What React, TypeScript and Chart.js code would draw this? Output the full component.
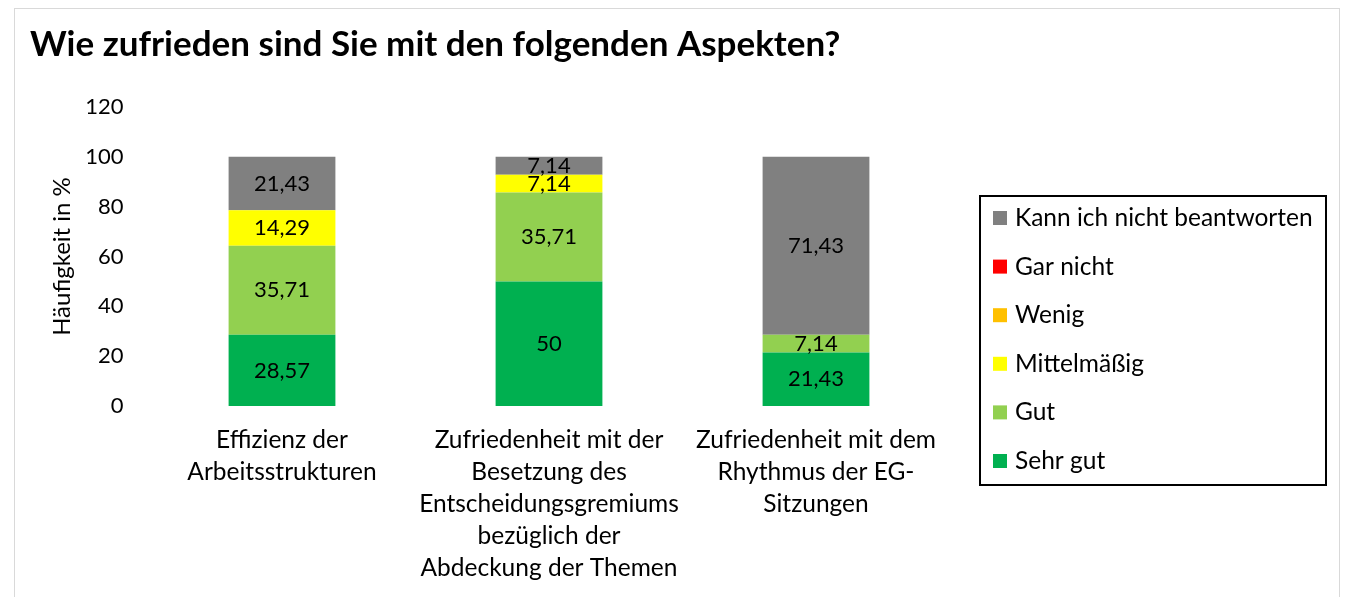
import React, { useEffect, useRef } from "react";
import { Chart, registerables } from "chart.js";

Chart.register(...registerables);

const chartTitle = "Wie zufrieden sind Sie mit den folgenden Aspekten?";
const yAxisTitle = "Häufigkeit in %";

const categories: string[][] = [
  ["Effizienz der", "Arbeitsstrukturen"],
  ["Zufriedenheit mit der", "Besetzung des", "Entscheidungsgremiums", "bezüglich der", "Abdeckung der Themen"],
  ["Zufriedenheit mit dem", "Rhythmus der EG-", "Sitzungen"],
];

const seriesNames = ["Sehr gut", "Gut", "Mittelmäßig", "Wenig", "Gar nicht", "Kann ich nicht beantworten"];
const seriesColors = ["#00B050", "#92D050", "#FFFF00", "#FFC000", "#FF0000", "#808080"];

const sehrGut = [28.57, 50, 21.43];
const gut = [35.71, 35.71, 7.14];
const mittelmaessig = [14.29, 7.14, 0];
const wenig = [0, 0, 0];
const garNicht = [0, 0, 0];
const kannNicht = [21.43, 7.14, 71.43];

const yMin = 0;
const yMax = 120;
const yStep = 20;

const FONT = "Lato, 'Open Sans', sans-serif";

const framePlugin = {
  id: "frameAndTitle",
  beforeDraw(chart: any) {
    const ctx = chart.ctx;
    ctx.save();
    ctx.fillStyle = "#FFFFFF";
    ctx.fillRect(0, 0, chart.width, chart.height);
    ctx.strokeStyle = "#D9D9D9";
    ctx.lineWidth = 1;
    ctx.strokeRect(14.5, 8.5, 1325, 640);
    ctx.fillStyle = "#000000";
    ctx.font = `bold 35px ${FONT}`;
    ctx.textAlign = "left";
    ctx.textBaseline = "middle";
    ctx.fillText(chartTitle, 30, 45);
    ctx.restore();
  },
};

const labelPlugin = {
  id: "segmentLabels",
  afterDatasetsDraw(chart: any) {
    const ctx = chart.ctx;
    ctx.save();
    ctx.fillStyle = "#000000";
    ctx.font = `22px ${FONT}`;
    ctx.textAlign = "center";
    ctx.textBaseline = "middle";
    chart.data.datasets.forEach((ds: any, i: number) => {
      const meta = chart.getDatasetMeta(i);
      meta.data.forEach((el: any, j: number) => {
        const v = ds.data[j];
        if (!v) return;
        const y = (el.y + el.base) / 2;
        ctx.fillText(String(v).replace(".", ","), el.x, y);
      });
    });
    ctx.restore();
  },
};

const legendPlugin = {
  id: "boxLegend",
  afterDraw(chart: any) {
    const ctx = chart.ctx;
    ctx.save();
    ctx.strokeStyle = "#000000";
    ctx.lineWidth = 2;
    ctx.strokeRect(980, 196, 346, 289);
    ctx.font = `24.5px ${FONT}`;
    ctx.textAlign = "left";
    ctx.textBaseline = "middle";
    const ds = chart.data.datasets.slice().reverse();
    ds.forEach((d: any, k: number) => {
      const cy = 218 + k * 48.6;
      ctx.fillStyle = d.backgroundColor;
      ctx.fillRect(993, cy - 7, 14, 14);
      ctx.fillStyle = "#000000";
      ctx.fillText(d.label, 1015, cy);
    });
    ctx.restore();
  },
};

export default function App() {
  const ref = useRef<HTMLCanvasElement>(null);

  useEffect(() => {
    if (!ref.current) return;
    const values = [sehrGut, gut, mittelmaessig, wenig, garNicht, kannNicht];
    const chart = new Chart(ref.current, {
      type: "bar",
      data: {
        labels: categories,
        datasets: values.map((data, i) => ({
          label: seriesNames[i],
          data,
          backgroundColor: seriesColors[i],
          borderWidth: 0,
          categoryPercentage: 1,
          barPercentage: 0.4,
        })),
      },
      options: {
        responsive: false,
        animation: false,
        layout: { padding: { left: 40, top: 107, right: 396.5, bottom: 0 } },
        plugins: {
          legend: { display: false },
          title: { display: false },
          tooltip: { enabled: false },
        },
        scales: {
          x: {
            stacked: true,
            grid: { display: false, drawTicks: false },
            border: { display: false },
            ticks: {
              color: "#000000",
              font: { family: FONT, size: 24.5, lineHeight: 1.31 },
              padding: 18,
              maxRotation: 0,
              autoSkip: false,
            },
            afterFit(axis: any) {
              axis.height = 191;
            },
          },
          y: {
            stacked: true,
            min: yMin,
            max: yMax,
            grid: { display: false, drawTicks: false },
            border: { display: false },
            ticks: {
              stepSize: yStep,
              color: "#000000",
              font: { family: FONT, size: 22 },
              padding: 25,
            },
            title: {
              display: true,
              text: yAxisTitle,
              color: "#000000",
              font: { family: FONT, size: 24 },
              padding: { top: 8, bottom: 0 },
            },
            afterFit(axis: any) {
              axis.width = 108.5;
            },
          },
        },
      },
      plugins: [framePlugin, labelPlugin, legendPlugin],
    });
    return () => chart.destroy();
  }, []);

  return (
    <div style={{ position: "absolute", left: 0, top: 0, width: 1346, height: 597 }}>
      <canvas ref={ref} width={1346} height={597} style={{ display: "block" }} />
    </div>
  );
}
